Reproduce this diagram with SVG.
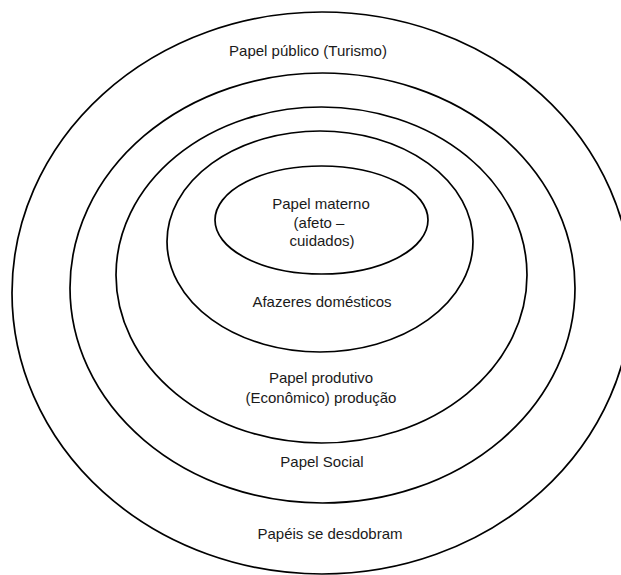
<svg xmlns="http://www.w3.org/2000/svg" width="621" height="575" viewBox="0 0 621 575">
<style>
.ring{fill:none;stroke:#000;stroke-width:1.7}
.lbl{font-family:"Liberation Sans",Arial,sans-serif;font-size:15px;fill:#1a1a1a;text-anchor:middle}
</style>
<rect width="621" height="575" fill="#fff"/>
<g id="connectors"></g>
<g id="node-publico">
<ellipse class="ring" cx="322" cy="293" rx="310" ry="281"/>
<text class="lbl" x="308" y="56">Papel público (Turismo)</text>
<text class="lbl" x="330" y="539">Papéis se desdobram</text>
</g>
<g id="node-social">
<ellipse class="ring" cx="322.5" cy="288" rx="252.5" ry="215"/>
<text class="lbl" x="322" y="467">Papel Social</text>
</g>
<g id="node-produtivo">
<ellipse class="ring" cx="321.5" cy="275" rx="205.5" ry="168"/>
<text class="lbl" x="321" y="383">Papel produtivo</text>
<text class="lbl" x="321" y="403">(Econômico) produção</text>
</g>
<g id="node-afazeres">
<ellipse class="ring" cx="320" cy="241.5" rx="153" ry="110.5"/>
<text class="lbl" x="322" y="307">Afazeres domésticos</text>
</g>
<g id="node-materno">
<ellipse class="ring" cx="321.5" cy="220" rx="106.5" ry="54"/>
<text class="lbl" x="321" y="209">Papel materno</text>
<text class="lbl" x="319" y="228">(afeto –</text>
<text class="lbl" x="322" y="246">cuidados)</text>
</g>
</svg>
